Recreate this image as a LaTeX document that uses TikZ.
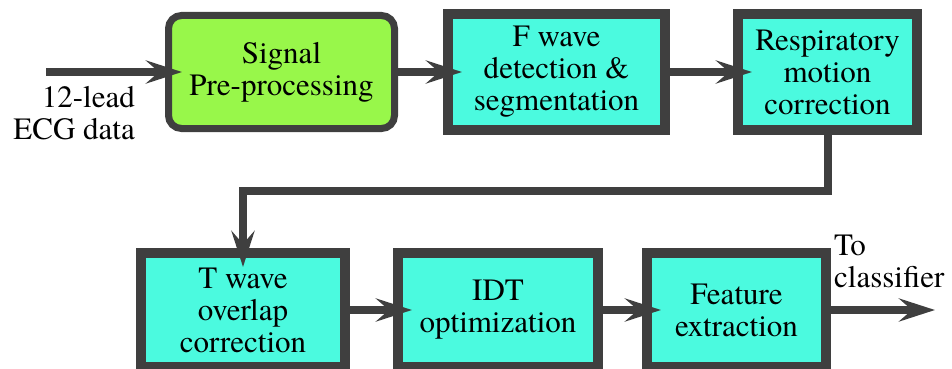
\documentclass[tikz,border=0pt]{standalone}
\usepackage{fontspec}
\setmainfont{texgyretermes-regular.otf}
\usetikzlibrary{arrows.meta}
\definecolor{bord}{HTML}{3F3F3F}
\definecolor{lime}{HTML}{98F74A}
\definecolor{aqua}{HTML}{4BFADF}
\tikzset{
  blk/.style={draw=bord, fill=aqua, line width=10pt, inner sep=0pt, align=center,
    font=\fontsize{31}{32}\selectfont},
  rblk/.style={blk, fill=lime, line width=7pt, rounded corners=13pt},
  conn/.style={draw=bord, line width=8pt, -{Stealth[length=36pt,width=23pt,inset=13pt]}, shorten >=-19pt},
  lbl/.style={inner sep=0pt, font=\fontsize{31}{32}\selectfont}
}
\begin{document}
\begin{tikzpicture}[x=1pt,y=-1pt]
\useasboundingbox (0,0) rectangle (952,369);
\node[rblk, minimum width=226pt, minimum height=113pt] (sig) at (281.5,72) {Signal\\Pre-processing};
\node[blk, minimum width=217pt, minimum height=116pt] (fw) at (556.5,72) {F wave\\detection \&\\segmentation};
\node[blk, minimum width=179pt, minimum height=116pt] (resp) at (827.5,72) {Respiratory\\motion\\correction};
\node[blk, minimum width=204pt, minimum height=114pt] (tw) at (243,310) {T wave\\overlap\\correction};
\node[blk, minimum width=200pt, minimum height=114pt] (idt) at (498,310) {IDT\\optimization};
\node[blk, minimum width=179pt, minimum height=114pt] (feat) at (736.5,310) {Feature\\extraction};
\coordinate (in) at (46,72);
\coordinate (out) at (935,310);
\coordinate (mid) at (0,190.5);
\node[lbl, align=right, anchor=east] (inlbl) at (135,113) {12-lead\\ECG data};
\node[lbl, align=left, anchor=west] (outlbl) at (834,261) {To\\classifier};
\draw[conn, shorten >=0pt] (in) -- ([xshift=17pt]sig.west);
\draw[conn] (sig.east) -- (fw.west);
\draw[conn] (fw.east) -- (resp.west);
\draw[conn] (resp.south) -- (resp.south |- mid) -- (tw.north |- mid) -- (tw.north);
\draw[conn] (tw.east) -- (idt.west);
\draw[conn] (idt.east) -- (feat.west);
\draw[conn, shorten >=0pt] (feat.east) -- (out);
\end{tikzpicture}
\end{document}
